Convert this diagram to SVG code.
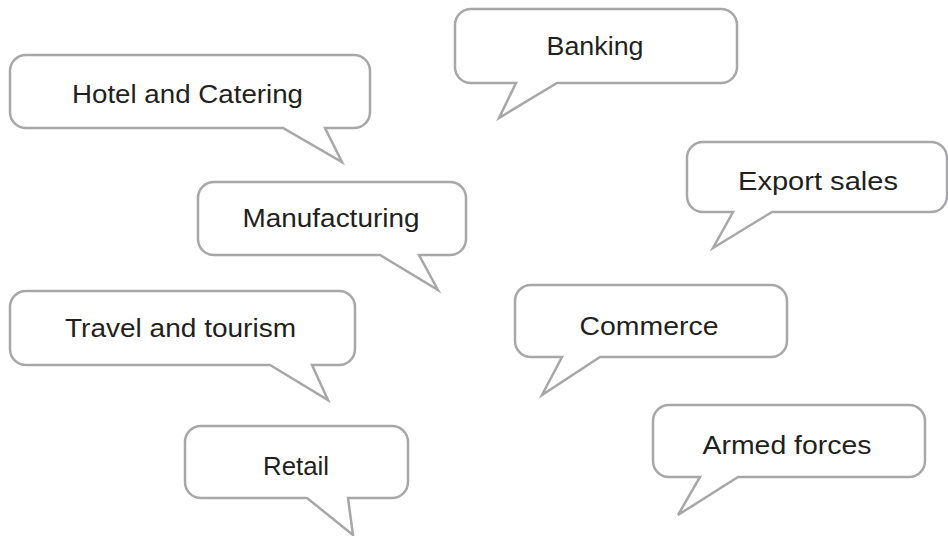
<svg xmlns="http://www.w3.org/2000/svg" width="948" height="536" viewBox="0 0 948 536">
<style>
.b{fill:#fff;stroke:#a7a7aa;stroke-width:2.5;stroke-linejoin:miter}
.t{font-family:"Liberation Sans","DejaVu Sans",Arial,sans-serif;font-size:25px;fill:#231f20;text-anchor:middle}
</style>
<rect width="948" height="536" fill="#fff"/>
<g id="hotel">
<path class="b" d="M26,55 H354 A16,16 0 0 1 370,71 V112 A16,16 0 0 1 354,128 H325 L342,162 L283,128 H26 A16,16 0 0 1 10,112 V71 A16,16 0 0 1 26,55 Z"/>
<text class="t" x="187.5" y="103" textLength="231" lengthAdjust="spacingAndGlyphs">Hotel and Catering</text>
</g>
<g id="banking">
<path class="b" d="M471,9 H721 A16,16 0 0 1 737,25 V67 A16,16 0 0 1 721,83 H557 L499,118 L516,83 H471 A16,16 0 0 1 455,67 V25 A16,16 0 0 1 471,9 Z"/>
<text class="t" x="595" y="55" textLength="97" lengthAdjust="spacingAndGlyphs">Banking</text>
</g>
<g id="manufacturing">
<path class="b" d="M214,182 H450 A16,16 0 0 1 466,198 V239 A16,16 0 0 1 450,255 H419 L438,290 L380,255 H214 A16,16 0 0 1 198,239 V198 A16,16 0 0 1 214,182 Z"/>
<text class="t" x="331" y="227" textLength="177" lengthAdjust="spacingAndGlyphs">Manufacturing</text>
</g>
<g id="export">
<path class="b" d="M703,142 H931 A16,16 0 0 1 947,158 V196 A16,16 0 0 1 931,212 H772 L713,248 L733,212 H703 A16,16 0 0 1 687,196 V158 A16,16 0 0 1 703,142 Z"/>
<text class="t" x="818" y="190" textLength="160" lengthAdjust="spacingAndGlyphs">Export sales</text>
</g>
<g id="travel">
<path class="b" d="M26,291 H339 A16,16 0 0 1 355,307 V349 A16,16 0 0 1 339,365 H312 L328,400 L270,365 H26 A16,16 0 0 1 10,349 V307 A16,16 0 0 1 26,291 Z"/>
<text class="t" x="180.5" y="337" textLength="231" lengthAdjust="spacingAndGlyphs">Travel and tourism</text>
</g>
<g id="commerce">
<path class="b" d="M531,285 H771 A16,16 0 0 1 787,301 V341 A16,16 0 0 1 771,357 H600 L542,395 L562,357 H531 A16,16 0 0 1 515,341 V301 A16,16 0 0 1 531,285 Z"/>
<text class="t" x="649" y="335" textLength="139" lengthAdjust="spacingAndGlyphs">Commerce</text>
</g>
<g id="retail">
<path class="b" d="M201,426 H392 A16,16 0 0 1 408,442 V482 A16,16 0 0 1 392,498 H348 L353,535 L307,498 H201 A16,16 0 0 1 185,482 V442 A16,16 0 0 1 201,426 Z"/>
<text class="t" x="296" y="475" textLength="66" lengthAdjust="spacingAndGlyphs">Retail</text>
</g>
<g id="armed">
<path class="b" d="M669,405 H909 A16,16 0 0 1 925,421 V461 A16,16 0 0 1 909,477 H738 L678,515 L700,477 H669 A16,16 0 0 1 653,461 V421 A16,16 0 0 1 669,405 Z"/>
<text class="t" x="787" y="454" textLength="169" lengthAdjust="spacingAndGlyphs">Armed forces</text>
</g>
<g id="connectors"></g>
</svg>
